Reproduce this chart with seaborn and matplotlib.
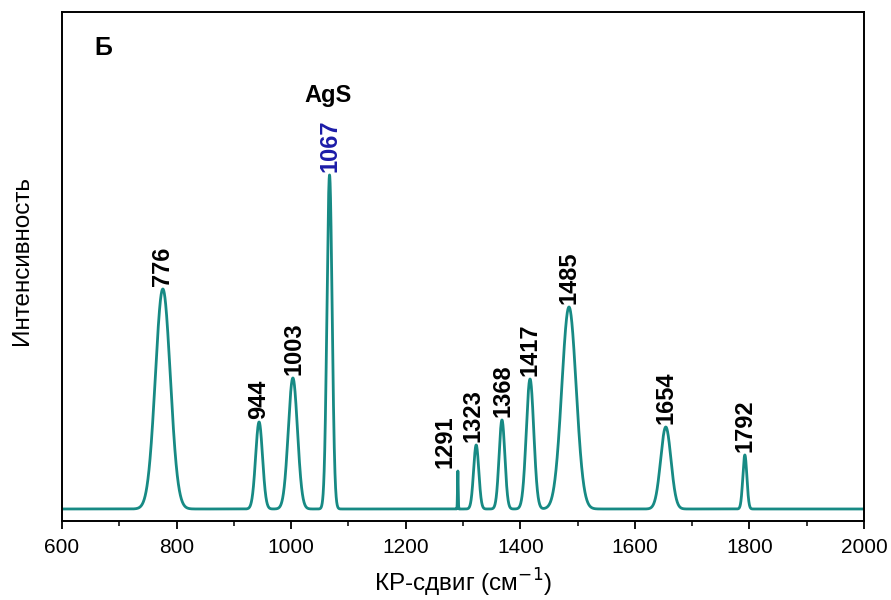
import numpy as np
import pandas as pd
import matplotlib
matplotlib.use("Agg")
import matplotlib.pyplot as plt
from matplotlib.ticker import MultipleLocator
import seaborn as sns

# Raman bands: position (cm-1), relative intensity, gaussian width (sigma, cm-1)
peak_pos = [776, 944, 1003, 1067, 1291, 1323, 1368, 1417, 1485, 1654, 1792]
peak_int = [220, 87, 131, 334, 38, 64, 89, 130, 202, 82, 54]
peak_sigma = [13, 6, 8, 4.5, 0.6, 4.5, 5, 6.5, 12.5, 9, 3.5]
peak_labels = ["776", "944", "1003", "1067", "1291", "1323", "1368", "1417",
               "1485", "1654", "1792"]
x_ticks = [600, 800, 1000, 1200, 1400, 1600, 1800, 2000]

# label styling: colour and horizontal nudge (points) per band
label_colors = ["black", "black", "black", "#1c1ca8", "black", "black",
                "black", "black", "black", "black", "black"]
label_dx = [0, 0, 1, 0, -9.5, -2, 1, 0, 0, 0, 0]

shift = np.linspace(600, 2000, 14001)
intensity = np.zeros_like(shift)
for p, a, s in zip(peak_pos, peak_int, peak_sigma):
    intensity += a * np.exp(-0.5 * ((shift - p) / s) ** 2)
spectrum = pd.DataFrame({"shift": shift, "intensity": intensity})

sns.set_style("ticks")
plt.rcParams["font.family"] = ["Liberation Sans", "DejaVu Sans"]
plt.rcParams["text.color"] = "black"
plt.rcParams["axes.labelcolor"] = "black"
plt.rcParams["xtick.color"] = "black"

fig = plt.figure(figsize=(8.91, 6.0), dpi=100)
ax = fig.add_axes([0.0696, 0.1317, 0.9001, 0.8483])

sns.lineplot(data=spectrum, x="shift", y="intensity", ax=ax,
             color="#178a84", linewidth=2.0)

ax.set_xlim(600, 2000)
ax.set_ylim(-12, 497)
ax.set_xticks(x_ticks)
ax.xaxis.set_minor_locator(MultipleLocator(100))
ax.set_yticks([])
ax.tick_params(axis="x", which="major", length=6, width=1.3, labelsize=15,
               direction="out", pad=6.5)
ax.tick_params(axis="x", which="minor", length=3.5, width=1.1, direction="out")
for sp in ax.spines.values():
    sp.set_visible(True)
    sp.set_linewidth(1.4)
    sp.set_color("black")

ax.set_xlabel("КР-сдвиг (см$^{-1}$)", fontsize=17.5, labelpad=6.5)
ax.set_ylabel("Интенсивность", fontsize=17.5)
ax.yaxis.set_label_coords(-0.036, 0.512)

for p, a, lab, c, dx in zip(peak_pos, peak_int, peak_labels, label_colors,
                            label_dx):
    ax.annotate(lab, xy=(p, a), xytext=(dx, 2), textcoords="offset points",
                rotation=90, ha="center", va="bottom", fontsize=17,
                fontweight="bold", color=c)

ax.text(1064, 413, "AgS", ha="center", va="center", fontsize=17,
        fontweight="bold")
ax.text(0.052, 0.93, "Б", transform=ax.transAxes, ha="center", va="center",
        fontsize=18, fontweight="bold")

fig.savefig("out.png", dpi=100)
